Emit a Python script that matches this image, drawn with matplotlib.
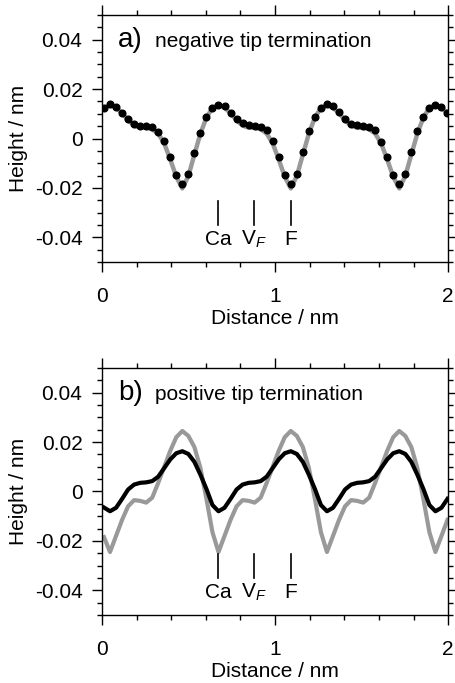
import numpy as np
import matplotlib
matplotlib.use('Agg')
import matplotlib.pyplot as plt
from matplotlib.ticker import MultipleLocator, FuncFormatter

plt.rcParams['font.family'] = ['Liberation Sans', 'DejaVu Sans']
plt.rcParams['mathtext.fontset'] = 'custom'
plt.rcParams['mathtext.rm'] = 'Liberation Sans'
plt.rcParams['mathtext.it'] = 'Liberation Sans:italic'
plt.rcParams['axes.unicode_minus'] = False

# sample positions along the line scan (nm)
distance = np.linspace(0.012, 1.996, 58)

# a) negative tip: experiment (dots) and simulation (gray)
neg_exp = [0.0125, 0.0138, 0.0127, 0.0105, 0.0078, 0.0057, 0.0050, 0.0052, 0.0046,
           0.0027, -0.0012, -0.0075, -0.0148, -0.0185, -0.0144, -0.0058, 0.0024, 0.0087,
           0.0124, 0.0135, 0.0131, 0.0105, 0.0080, 0.0063, 0.0053, 0.0050, 0.0046,
           0.0033, -0.0011, -0.0073, -0.0146, -0.0185, -0.0144, -0.0056, 0.0029, 0.0089,
           0.0125, 0.0139, 0.0131, 0.0107, 0.0080, 0.0060, 0.0053, 0.0052, 0.0046,
           0.0033, -0.0013, -0.0076, -0.0146, -0.0185, -0.0144, -0.0056, 0.0029, 0.0089,
           0.0125, 0.0135, 0.0128, 0.0103]
neg_sim = [0.0124, 0.0134, 0.0125, 0.0103, 0.0074, 0.0052, 0.0044, 0.0043, 0.0038,
           0.0020, -0.0020, -0.0085, -0.0155, -0.0202, -0.0152, -0.0065, 0.0020, 0.0085,
           0.0124, 0.0134, 0.0125, 0.0103, 0.0074, 0.0052, 0.0044, 0.0043, 0.0038,
           0.0020, -0.0020, -0.0085, -0.0155, -0.0202, -0.0152, -0.0065, 0.0020, 0.0085,
           0.0124, 0.0134, 0.0125, 0.0103, 0.0074, 0.0052, 0.0044, 0.0043, 0.0038,
           0.0020, -0.0020, -0.0085, -0.0155, -0.0202, -0.0152, -0.0065, 0.0020, 0.0085,
           0.0124, 0.0134, 0.0125, 0.0103]

# b) positive tip: two profiles
pos_black = [-0.0065, -0.0080, -0.0066, -0.0030, 0.0008, 0.0028, 0.0035, 0.0037, 0.0042,
             0.0060, 0.0095, 0.0130, 0.0155, 0.0163, 0.0152, 0.0120, 0.0068, 0.0010,
             -0.0055, -0.0080, -0.0066, -0.0030, 0.0008, 0.0028, 0.0035, 0.0037, 0.0042,
             0.0060, 0.0095, 0.0130, 0.0155, 0.0163, 0.0152, 0.0120, 0.0068, 0.0010,
             -0.0055, -0.0080, -0.0066, -0.0030, 0.0008, 0.0028, 0.0035, 0.0037, 0.0042,
             0.0060, 0.0095, 0.0130, 0.0155, 0.0163, 0.0152, 0.0120, 0.0068, 0.0010,
             -0.0055, -0.0080, -0.0066, -0.0030]
pos_gray = [-0.0185, -0.0245, -0.0180, -0.0115, -0.0060, -0.0035, -0.0038, -0.0045, -0.0025,
            0.0035, 0.0100, 0.0165, 0.0220, 0.0245, 0.0225, 0.0180, 0.0095, -0.0030,
            -0.0165, -0.0245, -0.0180, -0.0115, -0.0060, -0.0035, -0.0038, -0.0045, -0.0025,
            0.0035, 0.0100, 0.0165, 0.0220, 0.0245, 0.0225, 0.0180, 0.0095, -0.0030,
            -0.0165, -0.0245, -0.0180, -0.0115, -0.0060, -0.0035, -0.0038, -0.0045, -0.0025,
            0.0035, 0.0100, 0.0165, 0.0220, 0.0245, 0.0225, 0.0180, 0.0095, -0.0030,
            -0.0165, -0.0245, -0.0180, -0.0115]

# site markers
site_names = ['Ca', 'V$_F$', 'F']
site_pos = [0.673, 0.88, 1.09]

panel_tags = ['a)', 'b)']
panel_titles = ['negative tip termination', 'positive tip termination']

GRAY = '#999999'
FS = 15

fig = plt.figure(figsize=(4.55, 6.83), dpi=100)
ax1 = fig.add_axes([0.224, 0.6164, 0.761, 0.3616])
ax2 = fig.add_axes([0.224, 0.0996, 0.761, 0.3616])

ax1.plot(distance, neg_sim, color=GRAY, lw=3.2, zorder=2)
ax1.plot(distance, neg_exp, 'o', color='black', ms=4.8, zorder=3)

ax2.plot(distance, pos_gray, color=GRAY, lw=3.0, zorder=2)
ax2.plot(distance, pos_black, color='black', lw=3.0, zorder=3)

for ax, tag, title in zip([ax1, ax2], panel_tags, panel_titles):
    ax.set_xlim(0, 2)
    ax.set_ylim(-0.05, 0.05)
    ax.xaxis.set_major_locator(MultipleLocator(1))
    ax.xaxis.set_minor_locator(MultipleLocator(0.2))
    ax.yaxis.set_major_locator(MultipleLocator(0.02))
    ax.yaxis.set_minor_locator(MultipleLocator(0.005))
    ax.yaxis.set_major_formatter(FuncFormatter(lambda v, p: '%g' % round(v, 3)))
    ax.xaxis.set_major_formatter(FuncFormatter(lambda v, p: '%g' % v))
    ax.tick_params(which='both', direction='out', top=True, right=True, width=1, labelsize=FS)
    ax.tick_params(which='major', length=7)
    ax.tick_params(which='minor', length=3.6)
    ax.tick_params(axis='x', which='major', pad=11)
    ax.tick_params(axis='y', which='major', pad=7)
    for s in ax.spines.values():
        s.set_linewidth(1)
    ax.set_xlabel('Distance / nm', fontsize=FS, va='center')
    ax.set_ylabel('Height / nm', fontsize=FS, va='center')
    ax.xaxis.set_label_coords(0.5, -0.227)
    ax.yaxis.set_label_coords(-0.24, 0.5)

    ax.text(0.092, 0.037, tag, fontsize=20, va='baseline', ha='left')
    ax.text(0.306, 0.037, title, fontsize=FS, va='baseline', ha='left')

    # vertical site ticks with labels
    for name, xp in zip(site_names, site_pos):
        ax.plot([xp, xp], [-0.0255, -0.035], color='black', lw=1.2)
        ax.text(xp, -0.041, name, fontsize=FS, ha='center', va='center')

fig.savefig('out.png', dpi=100)
